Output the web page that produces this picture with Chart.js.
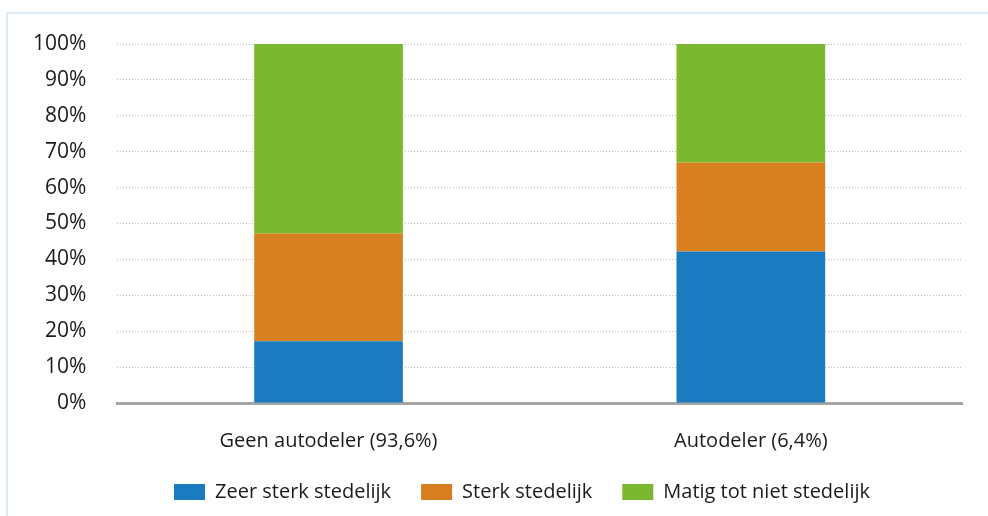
<!DOCTYPE html>
<html>
<head>
<meta charset="utf-8">
<script src="https://cdn.jsdelivr.net/npm/chart.js@4"></script>
<style>
  html, body { margin: 0; padding: 0; background: #fff; overflow: hidden; }
  .frame { position: absolute; left: 6px; top: 12px; right: 0; bottom: 0;
           border-left: 2px solid #dcecf9; border-top: 2px solid #dcecf9; }
  .wrap { position: absolute; left: 0; top: 0; width: 988px; height: 516px; }
</style>
</head>
<body>
<div class="frame"></div>
<div class="wrap"><canvas id="myChart"></canvas></div>
<script>
const categories = ['Geen autodeler (93,6%)', 'Autodeler (6,4%)'];
const zeerSterk = [17.2, 42.2];
const sterk = [30.0, 24.8];
const matig = [52.8, 33.0];
const yTicks = [0, 10, 20, 30, 40, 50, 60, 70, 80, 90, 100];

const family = "'Open Sans', sans-serif";
const textColor = '#1b1b1b';

// legend keeps its wide gaps between items but not the tall box that comes with them,
// and sits a bit right of the canvas centre like in the original
const legendHeight = 64;
const legendShift = 40;
const legendFix = {
  id: 'legendFix',
  beforeLayout(chart) {
    const legend = chart.legend;
    if (legend && !legend._fitWrapped) {
      const fit = legend.fit;
      legend.fit = function () {
        fit.call(this);
        this.height = legendHeight;
      };
      legend._fitWrapped = true;
    }
  },
  afterLayout(chart) {
    const legend = chart.legend;
    if (legend) {
      legend.left += legendShift;
      legend.right += legendShift;
    }
  }
};

const data = {
  labels: categories,
  datasets: [{
    label: 'Zeer sterk stedelijk',
    data: zeerSterk,
    backgroundColor: '#1a7bc1'
  },
  {
    label: 'Sterk stedelijk',
    data: sterk,
    backgroundColor: '#d88020'
  },
  {
    label: 'Matig tot niet stedelijk',
    data: matig,
    backgroundColor: '#7ab82f'
  }]
};

const config = {
  type: 'bar',
  data: data,
  plugins: [legendFix],
  options: {
    responsive: true,
    maintainAspectRatio: false,
    animation: false,
    datasets: { bar: { barPercentage: 0.352, categoryPercentage: 1 } },
    layout: { padding: { left: 2, right: 26, top: 44, bottom: 0 } },
    plugins: {
      tooltip: { enabled: false },
      legend: {
        position: 'bottom',
        labels: {
          boxWidth: 31,
          boxHeight: 16,
          padding: 30,
          color: textColor,
          font: { family: family, size: 20 }
        }
      }
    },
    scales: {
      x: {
        stacked: true,
        grid: { display: false, drawTicks: false },
        border: { display: true, color: '#a4a4a4', width: 3 },
        ticks: { color: textColor, font: { family: family, size: 20 }, padding: 26 },
        afterFit: (scale) => { scale.height = 49; }
      },
      y: {
        stacked: true,
        min: 0,
        max: 100,
        afterBuildTicks: (axis) => { axis.ticks = yTicks.map(v => ({ value: v })); },
        grid: { color: '#bdbdbd', lineWidth: 1, drawTicks: false },
        border: { display: false, dash: [1, 2] },
        ticks: { color: textColor, font: { family: family, size: 21 }, padding: 31, callback: (v) => v + '%' }
      }
    }
  }
};

const myChart = new Chart(
  document.getElementById('myChart'),
  config
);
</script>
</body>
</html>
